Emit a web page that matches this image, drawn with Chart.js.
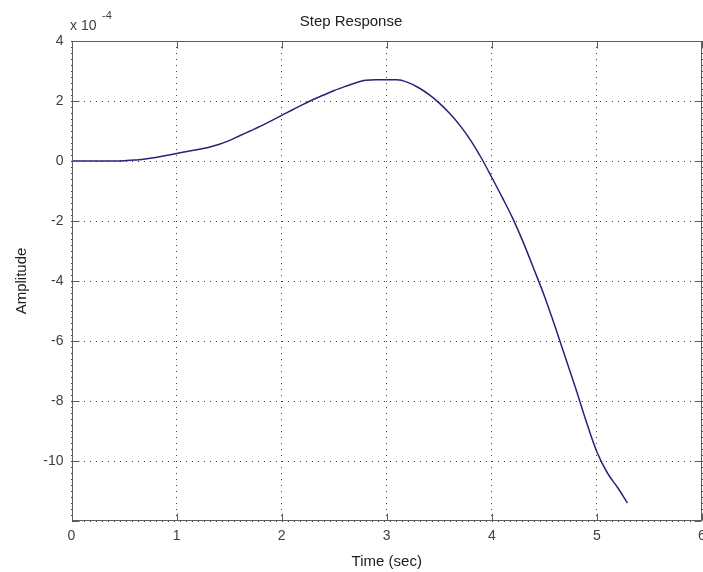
<!DOCTYPE html>
<html>
<head>
<meta charset="utf-8">
<title>Step Response</title>
<script src="https://cdn.jsdelivr.net/npm/chart.js@4.4.1/dist/chart.umd.min.js"></script>
<style>
  body { margin: 0; background: #fff; }
</style>
</head>
<body>
<canvas id="myChart" width="703" height="572"></canvas>
<script>
// time in seconds
const times = [0, 0.2, 0.4, 0.5, 0.6, 0.7, 0.8, 0.9, 1.0, 1.1, 1.2, 1.3, 1.4, 1.5, 1.6, 1.7, 1.8, 1.9,
  2.0, 2.1, 2.2, 2.3, 2.4, 2.5, 2.6, 2.7, 2.8, 2.9, 3.0, 3.1, 3.2, 3.3, 3.4, 3.5, 3.6, 3.7, 3.8, 3.9,
  4.0, 4.1, 4.2, 4.3, 4.4, 4.5, 4.6, 4.7, 4.8, 4.9, 5.0, 5.1, 5.2, 5.29]
// amplitude, in units of 1e-4
const amplitude = [0, 0, 0, 0.01, 0.03, 0.07, 0.12, 0.18, 0.25, 0.32, 0.38, 0.45, 0.55, 0.68, 0.84, 1.0, 1.16, 1.34,
  1.52, 1.7, 1.88, 2.05, 2.2, 2.35, 2.48, 2.6, 2.69, 2.71, 2.71, 2.71, 2.62, 2.45, 2.22, 1.93, 1.58, 1.17, 0.68, 0.1,
  -0.55, -1.22, -1.92, -2.72, -3.6, -4.5, -5.5, -6.55, -7.6, -8.7, -9.7, -10.4, -10.9, -11.4]
const xTicks = [0, 1, 2, 3, 4, 5, 6]
const yTicks = [-12, -10, -8, -6, -4, -2, 0, 2, 4]

const frameColor = '#5e5e5e'

// matlab style box with inward ticks + exponent label
const matlabFrame = {
  id: 'matlabFrame',
  afterDraw(chart) {
    const { ctx, chartArea: a, scales } = chart
    const l = Math.round(a.left) + 0.5, r = Math.round(a.right) - 0.5,
      t = Math.round(a.top) + 0.5, b = Math.round(a.bottom) - 0.5
    ctx.save()
    ctx.setLineDash([])
    ctx.strokeStyle = frameColor
    ctx.lineWidth = 1
    ctx.strokeRect(l, t, r - l, b - t)
    ctx.beginPath()
    xTicks.forEach(v => {
      const px = Math.round(scales.x.getPixelForValue(v)) + 0.5
      ctx.moveTo(px, b); ctx.lineTo(px, b - 7)
      ctx.moveTo(px, t); ctx.lineTo(px, t + 7)
    })
    yTicks.forEach(v => {
      const py = Math.round(scales.y.getPixelForValue(v)) + 0.5
      ctx.moveTo(l, py); ctx.lineTo(l + 7, py)
      ctx.moveTo(r, py); ctx.lineTo(r - 7, py)
    })
    ctx.stroke()
    ctx.fillStyle = '#404040'
    ctx.textBaseline = 'middle'
    ctx.textAlign = 'left'
    ctx.font = '14px "Liberation Sans", Arial, sans-serif'
    ctx.fillText('x 10', 70, 26)
    ctx.font = '11px "Liberation Sans", Arial, sans-serif'
    ctx.fillText('-4', 102, 16)
    ctx.restore()
  }
}

const ctx = document.getElementById('myChart').getContext('2d')
const chart = new Chart(ctx, {
  type: 'line',
  data: {
    datasets: [
      {
        data: times.map((t, i) => ({ x: t, y: amplitude[i] })),
        borderColor: '#24247a',
        borderWidth: 1.5,
        pointRadius: 0,
        cubicInterpolationMode: 'monotone',
        fill: false
      }
    ]
  },
  options: {
    responsive: false,
    animation: false,
    layout: { padding: { top: 0, right: 1, bottom: 0, left: 0 } },
    plugins: {
      legend: { display: false },
      tooltip: { enabled: false },
      title: {
        display: true,
        text: 'Step Response',
        color: '#202020',
        font: { family: '"Liberation Sans", Arial, sans-serif', size: 15, weight: 'normal' },
        padding: { top: 13, bottom: 10 }
      }
    },
    scales: {
      x: {
        type: 'linear',
        min: 0,
        max: 6,
        afterBuildTicks: s => { s.ticks = xTicks.map(v => ({ value: v })) },
        afterFit: s => { s.height = 51; s.paddingLeft = 0; s.paddingRight = 0 },
        grid: { color: '#404040', drawTicks: false },
        border: { display: false, dash: [1, 5] },
        ticks: {
          padding: 7,
          color: '#404040',
          maxRotation: 0,
          font: { family: '"Liberation Sans", Arial, sans-serif', size: 14 }
        },
        title: {
          display: true,
          text: 'Time (sec)',
          color: '#202020',
          font: { family: '"Liberation Sans", Arial, sans-serif', size: 15 },
          padding: { top: 0, bottom: 1 }
        }
      },
      y: {
        type: 'linear',
        min: -12,
        max: 4,
        afterBuildTicks: s => { s.ticks = yTicks.map(v => ({ value: v })) },
        afterFit: s => { s.width = 71.5; s.paddingTop = 0; s.paddingBottom = 0 },
        grid: { color: '#404040', drawTicks: false },
        border: { display: false, dash: [1, 5] },
        ticks: {
          padding: 8,
          color: '#404040',
          font: { family: '"Liberation Sans", Arial, sans-serif', size: 14 },
          callback: v => (v === -12 ? '' : v)
        },
        title: {
          display: true,
          text: 'Amplitude',
          color: '#202020',
          font: { family: '"Liberation Sans", Arial, sans-serif', size: 15 },
          padding: { top: 13, bottom: 0 }
        }
      }
    }
  },
  plugins: [matlabFrame]
})
</script>
</body>
</html>
